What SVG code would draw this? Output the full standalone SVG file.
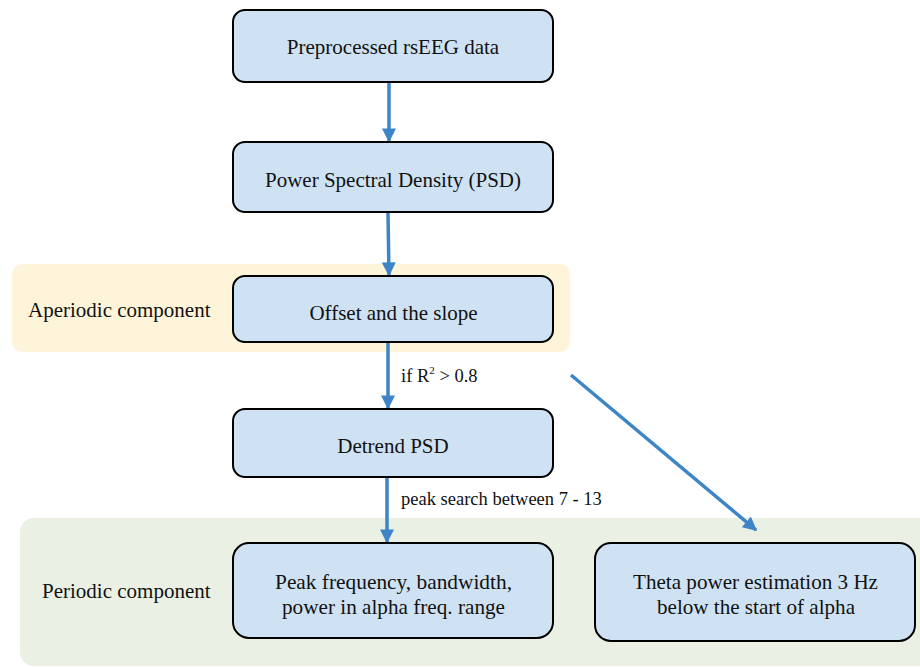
<svg xmlns="http://www.w3.org/2000/svg" width="920" height="667" viewBox="0 0 920 667">
<style>
.node{fill:#cfe2f3;stroke:#000;stroke-width:2}
.t{font-family:"Liberation Serif","Times New Roman",serif;font-size:21px;fill:#111;text-anchor:middle}
.lbl{font-family:"Liberation Serif","Times New Roman",serif;font-size:21px;fill:#111}
.sm{font-family:"Liberation Serif","Times New Roman",serif;font-size:18.5px;fill:#111}
.edge{stroke:#3d85c6;stroke-width:3.5;fill:none;marker-end:url(#ah)}
</style>
<defs>
<marker id="ah" viewBox="0 0 10 10" refX="9" refY="5" markerWidth="4" markerHeight="4" orient="auto" markerUnits="strokeWidth">
<path d="M0,0 L10,5 L0,10 z" fill="#3d85c6"/>
</marker>
</defs>
<rect width="920" height="667" fill="#fff"/>
<g id="band-aperiodic">
<rect x="12" y="264" width="558" height="88" rx="10" fill="#fef4da"/>
<text class="lbl" x="28" y="317">Aperiodic component</text>
</g>
<g id="band-periodic">
<rect x="20" y="518" width="912" height="148" rx="14" fill="#eaf1e4"/>
<text class="lbl" x="42" y="598">Periodic component</text>
</g>
<g id="connectors">
<line class="edge" x1="389" y1="83" x2="389" y2="141"/>
<line class="edge" x1="388" y1="213" x2="389" y2="275"/>
<line class="edge" x1="388" y1="343" x2="388" y2="408"/>
<line class="edge" x1="387" y1="478" x2="387" y2="542"/>
<line class="edge" x1="571" y1="375" x2="756" y2="530"/>
<text class="sm" x="401" y="382">if R<tspan font-size="11" dy="-8">2</tspan><tspan dy="8"> &gt; 0.8</tspan></text>
<text class="sm" x="401" y="505">peak search between 7 - 13</text>
</g>
<g id="n1">
<rect class="node" x="233" y="10" width="320" height="72" rx="12"/>
<text class="t" x="393" y="54">Preprocessed rsEEG data</text>
</g>
<g id="n2">
<rect class="node" x="233" y="142" width="320" height="70" rx="12"/>
<text class="t" x="393" y="187">Power Spectral Density (PSD)</text>
</g>
<g id="n3">
<rect class="node" x="233" y="276" width="320" height="66" rx="12"/>
<text class="t" x="393.5" y="320">Offset and the slope</text>
</g>
<g id="n4">
<rect class="node" x="233" y="409" width="320" height="68" rx="12"/>
<text class="t" x="393" y="453">Detrend PSD</text>
</g>
<g id="n5">
<rect class="node" x="233" y="543" width="320" height="95" rx="16"/>
<text class="t" x="393.5" y="589" textLength="237" lengthAdjust="spacingAndGlyphs">Peak frequency, bandwidth,</text>
<text class="t" x="393.5" y="614" textLength="223" lengthAdjust="spacingAndGlyphs">power in alpha freq. range</text>
</g>
<g id="n6">
<rect class="node" x="595" y="543" width="320" height="98" rx="16"/>
<text class="t" x="755.5" y="589" textLength="245" lengthAdjust="spacingAndGlyphs">Theta power estimation 3 Hz</text>
<text class="t" x="756" y="614" textLength="198" lengthAdjust="spacingAndGlyphs">below the start of alpha</text>
</g>
</svg>
